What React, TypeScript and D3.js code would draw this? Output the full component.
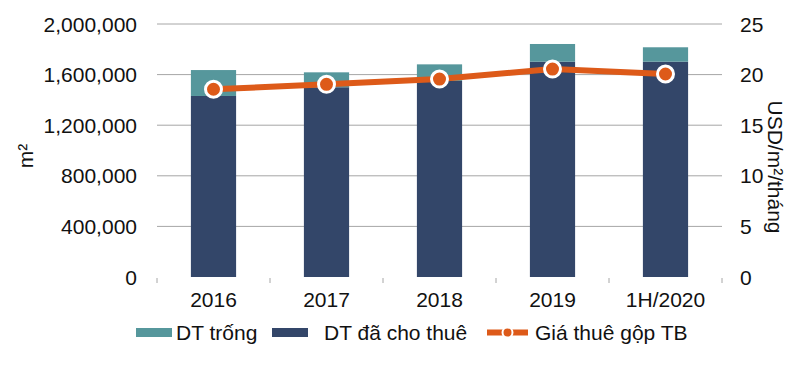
import React from 'react';
import * as d3 from 'd3';

const categories = ['2016', '2017', '2018', '2019', '1H/2020'];
const occupied = [1431000, 1500000, 1550000, 1702000, 1702000];
const vacant = [205000, 118000, 131000, 140000, 114000];
const rent = [18.55, 19.04, 19.56, 20.55, 20.06];
const leftTicks = [0, 400000, 800000, 1200000, 1600000, 2000000];
const rightTicks = [0, 5, 10, 15, 20, 25];

const TEAL = '#56979C';
const NAVY = '#334669';
const ORANGE = '#DD5A19';
const GRID = '#A6A6A6';
const FONT = '"Liberation Sans", Arial, sans-serif';
const FS = 21;

const App: React.FC = () => {
  const width = 804;
  const height = 370;
  const plot = { left: 157, right: 722, top: 24, bottom: 277 };

  const x = d3.scaleBand<string>()
    .domain(categories)
    .range([plot.left, plot.right])
    .paddingInner(0.6)
    .paddingOuter(0.3);

  const yLeft = d3.scaleLinear().domain([0, 2000000]).range([plot.bottom, plot.top]);
  const yRight = d3.scaleLinear().domain([0, 25]).range([plot.bottom, plot.top]);

  const fmt = d3.format(',');
  const step = x.step();
  const boundaries = d3.range(categories.length + 1).map(i => plot.left + i * step);

  const line = d3.line<number>()
    .x((_, i) => (x(categories[i]) ?? 0) + x.bandwidth() / 2)
    .y(d => yRight(d));

  return (
    <svg width={width} height={height} style={{ position: 'absolute', left: 0, top: 0, background: '#fff' }}
      fontFamily={FONT}>
      {/* grid lines */}
      {leftTicks.filter(t => t > 0).map(t => (
        <line key={t} x1={plot.left} x2={plot.right} y1={yLeft(t)} y2={yLeft(t)} stroke={GRID} strokeWidth={1} />
      ))}

      {/* x ticks */}
      {boundaries.map((b, i) => (
        <line key={i} x1={b} x2={b} y1={plot.bottom + 1} y2={plot.bottom + 6} stroke={GRID} strokeWidth={1} />
      ))}

      {/* stacked bars */}
      {categories.map((c, i) => {
        const bx = x(c) ?? 0;
        return (
          <g key={c}>
            <rect x={bx} width={x.bandwidth()} y={yLeft(occupied[i])}
              height={yLeft(0) - yLeft(occupied[i])} fill={NAVY} />
            <rect x={bx} width={x.bandwidth()} y={yLeft(occupied[i] + vacant[i])}
              height={yLeft(occupied[i]) - yLeft(occupied[i] + vacant[i])} fill={TEAL} />
          </g>
        );
      })}

      {/* rent line */}
      <path d={line(rent) ?? ''} fill="none" stroke={ORANGE} strokeWidth={6} strokeLinejoin="round" />
      {rent.map((r, i) => (
        <circle key={i} cx={(x(categories[i]) ?? 0) + x.bandwidth() / 2} cy={yRight(r)} r={8}
          fill={ORANGE} stroke="#fff" strokeWidth={3} />
      ))}

      {/* left axis labels */}
      {leftTicks.map(t => (
        <text key={t} x={137} y={yLeft(t)} dy="0.36em" textAnchor="end" fontSize={FS} fill="#111">
          {fmt(t)}
        </text>
      ))}

      {/* right axis labels */}
      {rightTicks.map(t => (
        <text key={t} x={740} y={yRight(t)} dy="0.36em" textAnchor="start" fontSize={FS} fill="#111">
          {t}
        </text>
      ))}

      {/* category labels */}
      {categories.map(c => (
        <text key={c} x={(x(c) ?? 0) + x.bandwidth() / 2} y={307} textAnchor="middle" fontSize={FS} fill="#111">
          {c}
        </text>
      ))}

      {/* axis titles */}
      <text transform="translate(33,156) rotate(-90)" textAnchor="middle" fontSize={FS} fill="#111">m²</text>
      <text transform="translate(768,167) rotate(90)" textAnchor="middle" fontSize={FS} fill="#111">USD/m²/tháng</text>

      {/* legend */}
      <rect x={136} y={328} width={36} height={9} fill={TEAL} />
      <text x={176} y={340} fontSize={FS} fill="#111">DT trống</text>
      <rect x={272} y={328} width={36} height={9} fill={NAVY} />
      <text x={324} y={340} fontSize={FS} fill="#111">DT đã cho thuê</text>
      <line x1={487} x2={528} y1={332.5} y2={332.5} stroke={ORANGE} strokeWidth={6} />
      <circle cx={507.5} cy={332.5} r={5} fill={ORANGE} stroke="#fff" strokeWidth={2} />
      <text x={535} y={340} fontSize={FS} fill="#111">Giá thuê gộp TB</text>
    </svg>
  );
};

export default App;
